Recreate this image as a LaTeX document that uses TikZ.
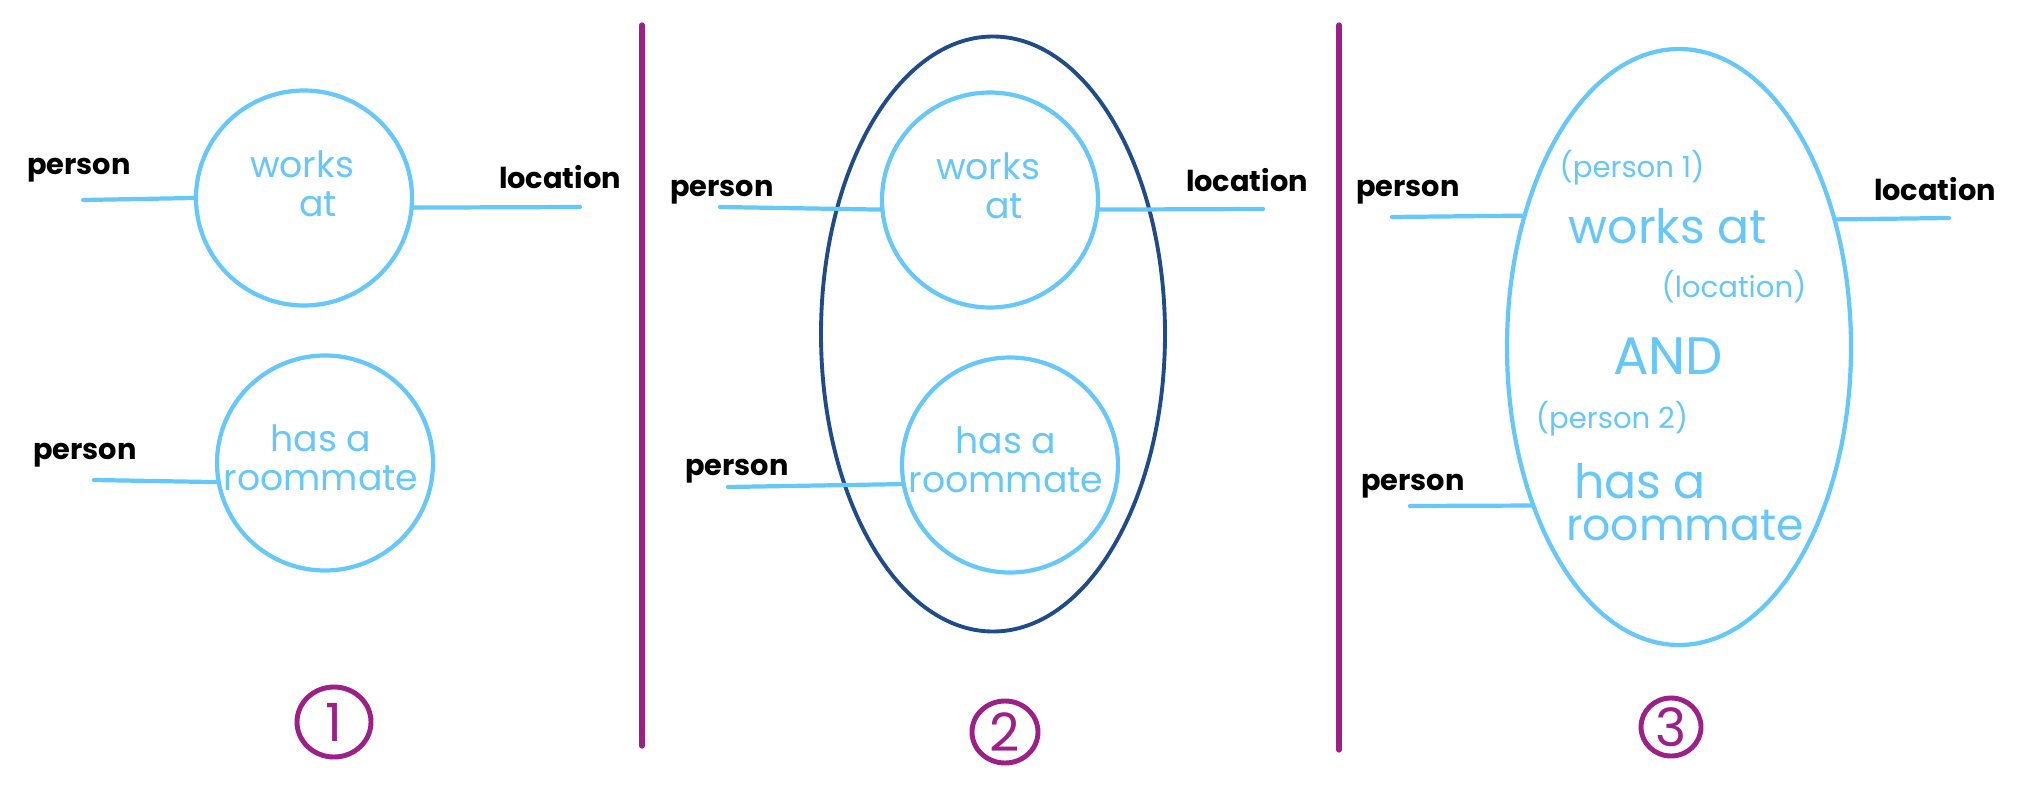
\documentclass[tikz,border=0pt]{standalone}
\usepackage{fontspec}
\setmainfont{Poppins}
\usetikzlibrary{calc,shapes.geometric}

\definecolor{relblue}{HTML}{66C7FA}
\definecolor{groupblue}{HTML}{1F4B8A}
\definecolor{stepviolet}{HTML}{9C2088}

\begin{document}
\begin{tikzpicture}[
    x=1cm, y=1cm,
    line cap=round,
    line join=round
]

% ---------------------------------------------------------
% 0. FRAME (same proportions as the sketch, 2029 x 796)
% ---------------------------------------------------------
\path [use as bounding box] (0,0) rectangle (20.29,7.96);

% Styles
\tikzset{rel circle/.style={ellipse, draw=relblue, line width=1.2pt, inner sep=0pt,
    minimum width=2.16cm, minimum height=2.15cm}}
\tikzset{rel text/.style={text=relblue, align=center, inner sep=0pt,
    font=\fontsize{10.3}{11}\selectfont}}
\tikzset{big text/.style={text=relblue, inner sep=0pt, font=\fontsize{13.5}{14}\selectfont}}
\tikzset{small text/.style={text=relblue, inner sep=0pt, font=\fontsize{8.3}{9}\selectfont}}
\tikzset{arg label/.style={inner sep=0pt, font=\bfseries\fontsize{8.2}{9}\selectfont}}
\tikzset{arg line/.style={draw=relblue, line width=1.2pt}}
\tikzset{divider/.style={draw=stepviolet, line width=1.5pt}}
\tikzset{step badge/.style={ellipse, draw=stepviolet, line width=1.4pt, inner sep=0pt,
    text=stepviolet, font=\fontsize{15}{15}\selectfont}}

% ---------------------------------------------------------
% 1. TWO SEPARATE RELATIONS
% ---------------------------------------------------------
\node[rel circle] (worksA) at (3.04, 5.98) {};
\node[rel circle] (hasA)   at (3.25, 3.33) {};

\node[rel text] (worksAtxt) at ($(worksA)+(-0.02,0.14)$) {works\\\hspace*{0.9em}at};
\node[rel text] (hasAtxt)   at ($(hasA)+(-0.04,0.05)$)   {has a\\roommate};

\coordinate (pA1) at (0.83, 5.96);
\coordinate (lA)  at (5.80, 5.89);
\coordinate (pA2) at (0.94, 3.16);

\node[arg label] (pA1lbl) at (0.79, 6.26) {person};
\node[arg label] (lAlbl)  at (5.60, 6.19) {location};
\node[arg label] (pA2lbl) at (0.85, 3.41) {person};

\draw[arg line] (pA1) -- (worksA.west);
\draw[arg line] (worksA.-5) -- (lA);
\draw[arg line] (pA2) -- (hasA.190);

\node[step badge, minimum width=0.74cm, minimum height=0.70cm] (stepA) at (3.34, 0.74) {1};

\draw[divider] (6.42, 7.71) -- (6.42, 0.50);

% ---------------------------------------------------------
% 2. RELATIONS GROUPED TOGETHER
% ---------------------------------------------------------
\node[ellipse, draw=groupblue, line width=1.1pt, minimum width=3.44cm,
      minimum height=5.95cm] (groupB) at (9.93, 4.62) {};

\node[rel circle] (worksB) at (9.90, 5.96) {};
\node[rel circle] (hasB)   at (10.10, 3.31) {};

\node[rel text] (worksBtxt) at ($(worksB)+(-0.02,0.14)$) {works\\\hspace*{0.9em}at};
\node[rel text] (hasBtxt)   at ($(hasB)+(-0.04,0.05)$)   {has a\\roommate};

\coordinate (pB1) at (7.20, 5.89);
\coordinate (lB)  at (12.63, 5.87);
\coordinate (pB2) at (7.28, 3.09);

\node[arg label] (pB1lbl) at (7.22, 6.04) {person};
\node[arg label] (lBlbl)  at (12.47, 6.16) {location};
\node[arg label] (pB2lbl) at (7.37, 3.25) {person};

\draw[arg line] (pB1) -- (worksB.185);
\draw[arg line] (worksB.-5) -- (lB);
\draw[arg line] (pB2) -- (hasB.190);

\node[step badge, minimum width=0.66cm, minimum height=0.62cm] (stepB) at (10.05, 0.64) {2};

\draw[divider] (13.39, 7.71) -- (13.39, 0.46);

% ---------------------------------------------------------
% 3. ONE COMBINED RELATION
% ---------------------------------------------------------
\node[ellipse, draw=relblue, line width=1.2pt, minimum width=3.44cm,
      minimum height=5.96cm] (andC) at (16.79, 4.49) {};

\node[small text] (p1txt)    at (16.32, 6.28) {(person 1)};
\node[big text]   (workstxt) at (16.68, 5.70) {works at};
\node[small text] (loctxt)   at (17.34, 5.09) {(location)};
\node[big text, font=\fontsize{15}{15}\selectfont] (andtxt) at (16.68, 4.40) {AND};
\node[small text] (p2txt)    at (16.12, 3.77) {(person 2)};
\node[big text]   (hastxt)   at (16.40, 3.15) {has a};
\node[big text, font=\fontsize{12.6}{13}\selectfont] (roomtxt) at (16.85, 2.70) {roommate};

\coordinate (pC1) at (13.92, 5.79);
\coordinate (lC)  at (19.49, 5.78);
\coordinate (pC2) at (14.10, 2.90);

\node[arg label] (pC1lbl) at (14.08, 6.04) {person};
\node[arg label] (lClbl)  at (19.35, 6.07) {location};
\node[arg label] (pC2lbl) at (14.13, 3.10) {person};

\draw[arg line] (pC1) -- (andC.140);
\draw[arg line] (andC.39) -- (lC);
\draw[arg line] (pC2) -- (andC.227);

\node[step badge, minimum width=0.60cm, minimum height=0.58cm] (stepC) at (16.71, 0.69) {3};

\end{tikzpicture}
\end{document}
